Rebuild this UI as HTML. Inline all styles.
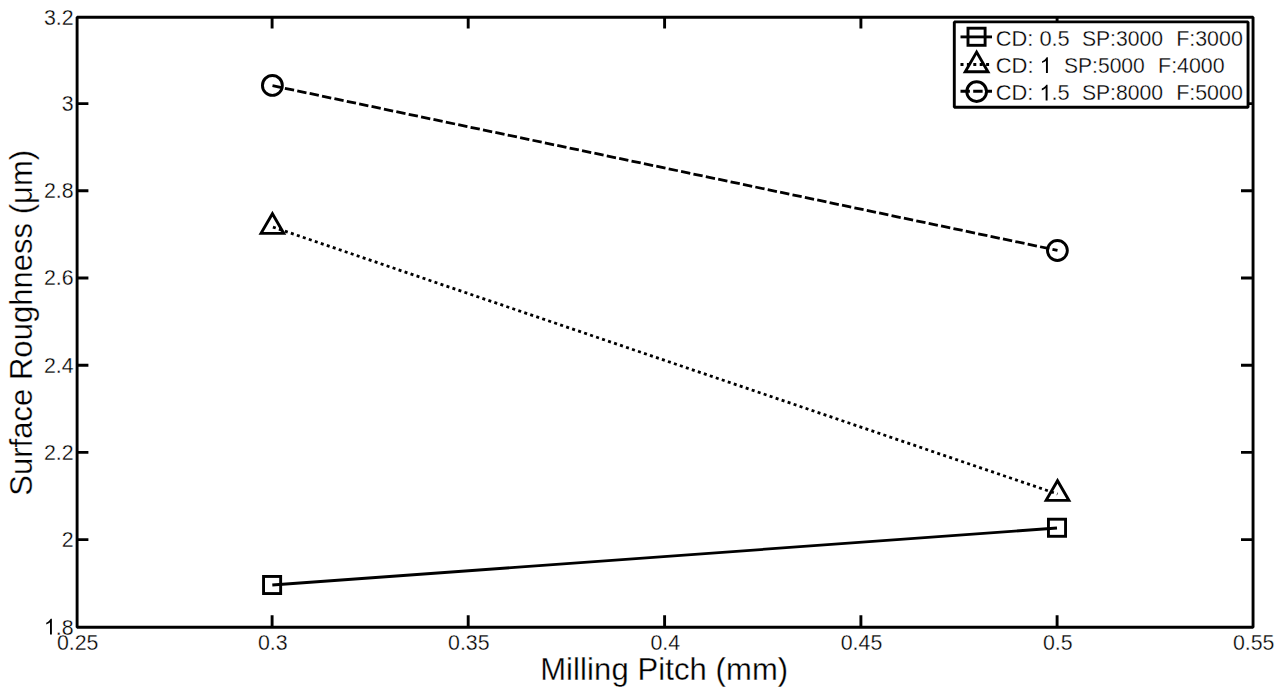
<!DOCTYPE html>
<html><head><meta charset="utf-8">
<style>
html,body{margin:0;padding:0;background:#fff;width:1278px;height:692px;overflow:hidden}
svg{display:block}
text{font-family:"Liberation Sans",sans-serif;fill:#000;stroke:#fff;stroke-width:0.3px}
</style></head>
<body>
<svg width="1278" height="692" viewBox="0 0 1278 692">
<rect x="0" y="0" width="1278" height="692" fill="#fff"/>

<!-- data lines -->
<g fill="none" stroke="#000" stroke-width="2.8">
  <line x1="272.3" y1="585" x2="1057" y2="528"/>
  <line x1="272.4" y1="226.9" x2="1057.5" y2="494" stroke-dasharray="3 3.322" stroke-dashoffset="-0.54"/>
  <line x1="272.5" y1="85.7" x2="1057.5" y2="250.4" stroke-dasharray="9.4 3.25"/>
</g>

<!-- markers -->
<g fill="none" stroke="#000" stroke-width="2.9" stroke-linejoin="miter" stroke-miterlimit="10">
  <rect x="263.55" y="576.45" width="17.1" height="17.1"/>
  <rect x="1048.45" y="519.2" width="17.1" height="17.1"/>
  <polygon points="272.4,213.7 261.03,233.4 283.77,233.4"/>
  <polygon points="1057.5,480.7 1046.13,500.4 1068.87,500.4"/>
  <circle cx="272.4" cy="85.4" r="9.95"/>
  <circle cx="1057.4" cy="250.5" r="9.95"/>
</g>

<!-- axes box -->
<rect x="77.1" y="17.2" width="1175.95" height="610" fill="none" stroke="#000" stroke-width="2.9" stroke-linejoin="bevel"/>

<!-- ticks -->
<g stroke="#000" stroke-width="2.9" fill="none">
  <path d="M272.1 627 V615.2 M468.2 627 V615.2 M664.6 627 V615.2 M860.9 627 V615.2 M1057.1 627 V615.2"/>
  <path d="M272.1 17 V28.4 M468.2 17 V28.4 M664.6 17 V28.4 M860.9 17 V28.4 M1057.1 17 V28.4"/>
  <path d="M77 103.6 H88.4 M77 190.8 H88.4 M77 278 H88.4 M77 365.2 H88.4 M77 452.4 H88.4 M77 539.6 H88.4"/>
  <path d="M1253 103.6 H1241 M1253 190.8 H1241 M1253 278 H1241 M1253 365.2 H1241 M1253 452.4 H1241 M1253 539.6 H1241"/>
</g>

<!-- tick labels -->
<g font-size="22" text-anchor="end">
  <text transform="translate(73.6,24.6) scale(0.97,1)">3.2</text>
  <text transform="translate(73.6,111.0) scale(0.97,1)">3</text>
  <text transform="translate(73.6,198.2) scale(0.97,1)">2.8</text>
  <text transform="translate(73.6,285.4) scale(0.97,1)">2.6</text>
  <text transform="translate(73.6,372.6) scale(0.97,1)">2.4</text>
  <text transform="translate(73.6,459.8) scale(0.97,1)">2.2</text>
  <text transform="translate(73.6,547.0) scale(0.97,1)">2</text>
  <text transform="translate(73.6,634.6) scale(0.97,1)"> .8</text>
</g>
<g font-size="22" text-anchor="middle">
  <text transform="translate(77.7,649.8) scale(0.97,1)">0.25</text>
  <text transform="translate(272.7,649.8) scale(0.97,1)">0.3</text>
  <text transform="translate(468.8,649.8) scale(0.97,1)">0.35</text>
  <text transform="translate(665.2,649.8) scale(0.97,1)">0.4</text>
  <text transform="translate(861.5,649.8) scale(0.97,1)">0.45</text>
  <text transform="translate(1057.7,649.8) scale(0.97,1)">0.5</text>
  <text transform="translate(1253.7,649.8) scale(0.97,1)">0.55</text>
</g>

<!-- axis labels -->
<text x="664.2" y="680.1" font-size="31" text-anchor="middle" textLength="248">Milling Pitch (mm)</text>
<text transform="translate(32,322.8) rotate(-90)" font-size="31" text-anchor="middle" textLength="346">Surface Roughness (μm)</text>

<!-- legend -->
<rect x="954.3" y="21.9" width="293.75" height="85.3" fill="#fff" stroke="#000" stroke-width="2.9" stroke-linejoin="bevel"/>
<g fill="none" stroke="#000" stroke-width="2.85">
  <line x1="960.5" y1="36.9" x2="992" y2="36.9"/>
  <line x1="960.5" y1="64.5" x2="992" y2="64.5" stroke-dasharray="3 3.4"/>
  <line x1="960.5" y1="91.2" x2="992" y2="91.2" stroke-dasharray="9.4 3.3"/>
</g>
<g fill="none" stroke="#000" stroke-width="2.9" stroke-miterlimit="10">
  <rect x="968" y="28.2" width="17.1" height="17.1"/>
  <polygon points="976.6,52.1 965.23,71.8 987.97,71.8"/>
  <circle cx="976.65" cy="91.6" r="9.85"/>
</g>
<g font-size="22">
  <text x="995.7" y="45.6" textLength="74.1" lengthAdjust="spacingAndGlyphs">CD: 0.5</text>
  <text x="1081.9" y="45.6" textLength="81.1" lengthAdjust="spacingAndGlyphs">SP:3000</text>
  <text x="1176.2" y="45.6" textLength="66.6" lengthAdjust="spacingAndGlyphs">F:3000</text>
  <text x="995.7" y="73.1">CD:  </text>
  <text x="1064" y="73.1" textLength="80.8" lengthAdjust="spacingAndGlyphs">SP:5000</text>
  <text x="1158.1" y="73.1" textLength="66.5" lengthAdjust="spacingAndGlyphs">F:4000</text>
  <text x="995.7" y="100.4" textLength="74.1" lengthAdjust="spacingAndGlyphs">CD:  .5</text>
  <text x="1081.9" y="100.4" textLength="81.1" lengthAdjust="spacingAndGlyphs">SP:8000</text>
  <text x="1176.2" y="100.4" textLength="66.6" lengthAdjust="spacingAndGlyphs">F:5000</text>
</g>
<!-- arial-style "1" glyphs -->
<g fill="#000" stroke="#fff" stroke-width="0.3" vector-effect="non-scaling-stroke">
  <path transform="translate(43.93,634.6) scale(0.01042,-0.010742)" d="M763,0 L583,0 L583,1147 Q518,1085 412.5,1023 Q307,961 223,930 L223,1104 Q374,1175 485.5,1274.5 Q597,1374 647,1466 L763,1466 Z"/>
  <path transform="translate(1039.7,73.1) scale(0.010742,-0.010742)" d="M763,0 L583,0 L583,1147 Q518,1085 412.5,1023 Q307,961 223,930 L223,1104 Q374,1175 485.5,1274.5 Q597,1374 647,1466 L763,1466 Z"/>
  <path transform="translate(1039.42,100.4) scale(0.010673,-0.010742)" d="M763,0 L583,0 L583,1147 Q518,1085 412.5,1023 Q307,961 223,930 L223,1104 Q374,1175 485.5,1274.5 Q597,1374 647,1466 L763,1466 Z"/>
</g>
</svg>
</body></html>
